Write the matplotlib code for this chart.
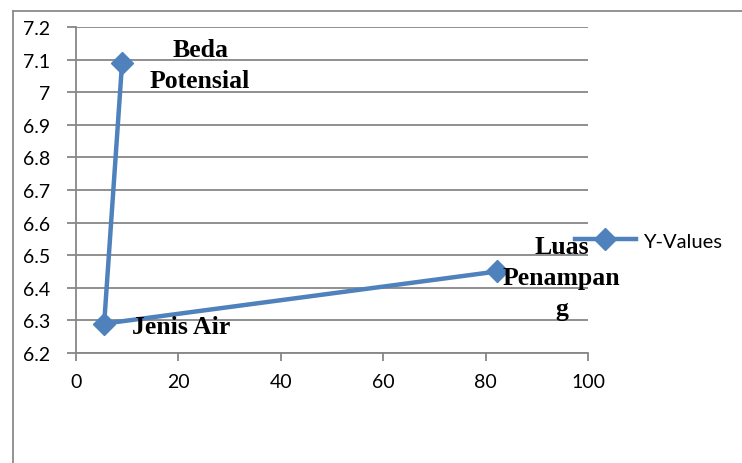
import matplotlib
matplotlib.use("Agg")
import matplotlib.pyplot as plt
from matplotlib.lines import Line2D

# data points (x, y) and their labels
x_vals = [9, 5.5, 82.2]
y_vals = [7.09, 6.29, 6.45]
point_labels = ["Beda\nPotensial", "Jenis Air", "Luas\nPenampan\ng"]
label_offsets = [(78, -2), (77, -3), (65, -6)]  # pixels from the marker
x_ticks = [0, 20, 40, 60, 80, 100]
y_ticks = [6.2, 6.3, 6.4, 6.5, 6.6, 6.7, 6.8, 6.9, 7.0, 7.1, 7.2]

blue = "#4F81BD"
grey = "#878787"

fig = plt.figure(figsize=(7.42, 4.64), dpi=100)
ax = fig.add_axes([76 / 742, 1 - 354 / 464, 512 / 742, 326 / 464])

ax.plot(x_vals, y_vals, color=blue, lw=3.2, marker="D", ms=11,
        label="Y-Values", zorder=3, clip_on=False)

ax.set_xlim(0, 100)
ax.set_ylim(6.2, 7.2)
ax.set_xticks(x_ticks)
ax.set_yticks(y_ticks)
ax.set_yticklabels(["6.2", "6.3", "6.4", "6.5", "6.6", "6.7", "6.8", "6.9", "7", "7.1", "7.2"])

for s in ["top", "right"]:
    ax.spines[s].set_visible(False)
for s in ["left", "bottom"]:
    ax.spines[s].set_color(grey)
    ax.spines[s].set_linewidth(1.3)

ax.grid(axis="y", color=grey, lw=1.3)
ax.set_axisbelow(True)
ax.tick_params(axis="y", direction="out", length=6.5, width=1.3, color=grey,
               pad=12, labelsize=14)
ax.tick_params(axis="x", direction="out", length=5.5, width=1.3, color=grey,
               pad=9, labelsize=14)
for t in ax.get_xticklabels() + ax.get_yticklabels():
    t.set_family("Lato")

for xv, yv, txt, off in zip(x_vals, y_vals, point_labels, label_offsets):
    ax.annotate(txt, (xv, yv), xytext=off, textcoords="offset pixels",
                ha="center", va="center", family="Liberation Serif",
                fontweight="bold", fontsize=18.5, linespacing=1.45, zorder=4)

leg = ax.legend(loc="center left", bbox_to_anchor=(0.975, 0.3436),
                frameon=False, borderaxespad=0, borderpad=0,
                handlelength=3.0, handletextpad=0.35,
                prop={"family": "Lato", "size": 14.5})

# outer chart frame (left and top edges)
fig.add_artist(Line2D([13 / 742, 13 / 742], [0, 1 - 12 / 464],
                      transform=fig.transFigure, color="#8a8a8a", lw=1.3))
fig.add_artist(Line2D([13 / 742, 1], [1 - 12 / 464, 1 - 12 / 464],
                      transform=fig.transFigure, color="#8a8a8a", lw=1.3))

fig.savefig("out.png", dpi=100)
